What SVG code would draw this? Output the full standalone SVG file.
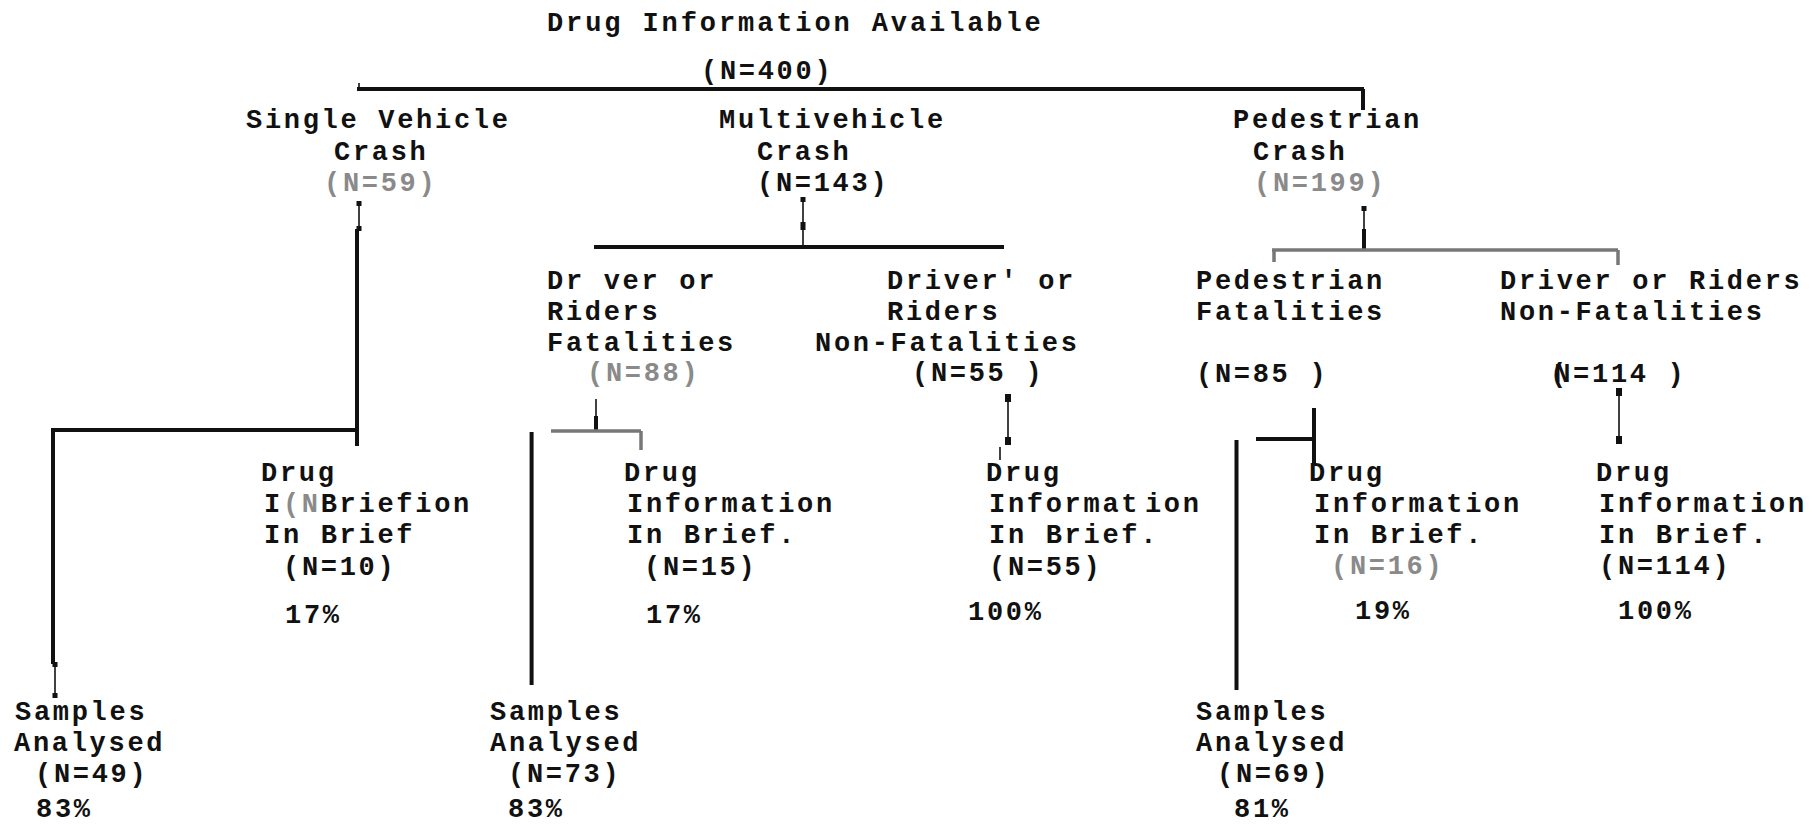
<svg xmlns="http://www.w3.org/2000/svg" width="1812" height="824" viewBox="0 0 1812 824">
<style>
text{font-family:"Liberation Mono","Courier New",monospace;font-size:27px;letter-spacing:2.7px;font-weight:bold;fill:#111;white-space:pre}
.title{letter-spacing:2.9px}
.g{fill:#8a8a8a}
.thick{stroke:#111;stroke-width:4;fill:none}
.thin{stroke:#111;stroke-width:1.6;fill:none}
.grey{stroke:#777;stroke-width:3.5;fill:none}
.dot{fill:#111}
</style>
<rect width="1812" height="824" fill="#fff"/>
<g id="connectors">
  <!-- root bar -->
  <line class="thick" x1="357" y1="89" x2="1364" y2="89"/>
  <line class="thin" x1="359" y1="83" x2="359" y2="89"/>
  <line class="thick" x1="1363" y1="89" x2="1363" y2="110"/>
  <!-- single vehicle -->
  <line class="thin" x1="359" y1="203" x2="359" y2="229"/>
  <rect class="dot" x="356.5" y="201" width="5" height="5"/>
  <rect class="dot" x="356.5" y="226" width="5" height="5"/>
  <line class="thick" x1="357" y1="229" x2="357" y2="446"/>
  <line class="thick" x1="51" y1="430" x2="357" y2="430"/>
  <line class="thick" x1="53" y1="430" x2="53" y2="664"/>
  <line class="thin" x1="55" y1="664" x2="55" y2="696"/>
  <rect class="dot" x="52.5" y="662" width="5" height="5"/>
  <rect class="dot" x="52.5" y="693" width="5" height="5"/>
  <!-- multivehicle -->
  <line class="thin" x1="803" y1="199" x2="803" y2="247"/>
  <rect class="dot" x="800.5" y="197" width="5" height="5"/>
  <rect class="dot" x="800.5" y="222" width="5" height="8"/>
  <line class="thick" x1="594" y1="247" x2="1004" y2="247"/>
  <!-- driver fatalities -->
  <line class="thin" x1="596" y1="399" x2="596" y2="418"/>
  <line class="thick" x1="596" y1="416" x2="596" y2="431"/>
  <line class="grey" x1="551" y1="431" x2="641" y2="431"/>
  <line class="grey" x1="641" y1="431" x2="641" y2="450"/>
  <line class="thick" x1="531.6" y1="432" x2="531.6" y2="685"/>
  <!-- driver non-fatalities -->
  <line class="thin" x1="1008" y1="396" x2="1008" y2="444"/>
  <rect class="dot" x="1005" y="394" width="6" height="8"/>
  <rect class="dot" x="1005" y="437" width="6" height="8"/>
  <line class="thin" x1="1000" y1="447" x2="1000" y2="460"/>
  <!-- pedestrian -->
  <line class="thin" x1="1364" y1="208" x2="1364" y2="230"/>
  <rect class="dot" x="1361.5" y="206" width="5" height="5"/>
  <line class="thick" x1="1364" y1="229" x2="1364" y2="250"/>
  <line class="grey" x1="1272" y1="250" x2="1618" y2="250"/>
  <line class="grey" x1="1274" y1="250" x2="1274" y2="262"/>
  <line class="grey" x1="1618" y1="250" x2="1618" y2="265"/>
  <!-- pedestrian fatalities -->
  <line class="thick" x1="1314" y1="408" x2="1314" y2="465"/>
  <line class="thick" x1="1256" y1="439" x2="1314" y2="439"/>
  <line class="thick" x1="1236.5" y1="440" x2="1236.5" y2="690"/>
  <!-- pedestrian non-fatalities -->
  <line class="thin" x1="1619" y1="390" x2="1619" y2="443"/>
  <rect class="dot" x="1616" y="388" width="6" height="8"/>
  <rect class="dot" x="1616" y="436" width="6" height="8"/>
</g>
<g id="root">
  <text x="547" y="31" class="title">Drug Information Available</text>
  <text x="701" y="79">(N=400)</text>
</g>
<g id="single-vehicle">
  <text x="246" y="128">Single Vehicle</text>
  <text x="334" y="160">Crash</text>
  <text x="324" y="191" class="g">(N=59)</text>
</g>
<g id="multivehicle">
  <text x="719" y="128">Multivehicle</text>
  <text x="757" y="160">Crash</text>
  <text x="757" y="191">(N=143)</text>
</g>
<g id="pedestrian">
  <text x="1233" y="128">Pedestrian</text>
  <text x="1253" y="160">Crash</text>
  <text x="1254" y="191" class="g">(N=199)</text>
</g>
<g id="driver-fatalities">
  <text x="547" y="289">Dr ver or</text>
  <text x="547" y="320">Riders</text>
  <text x="547" y="351">Fatalities</text>
  <text x="587" y="381" class="g">(N=88)</text>
</g>
<g id="driver-non-fatalities">
  <text x="887" y="289">Driver' or</text>
  <text x="887" y="320">Riders</text>
  <text x="815" y="351">Non-Fatalities</text>
  <text x="912" y="381">(N=55 )</text>
</g>
<g id="pedestrian-fatalities">
  <text x="1196" y="289">Pedestrian</text>
  <text x="1196" y="320">Fatalities</text>
  <text x="1196" y="382">(N=85 )</text>
</g>
<g id="pedestrian-non-fatalities">
  <text x="1500" y="289">Driver or Riders</text>
  <text x="1500" y="320">Non-Fatalities</text>
  <text x="1550" y="382"><tspan style="letter-spacing:-12px">(</tspan>N=114 )</text>
</g>
<g id="sv-brief">
  <text x="261" y="481">Drug</text>
  <text x="264" y="512">I<tspan class="g">(N</tspan>Briefion</text>
  <text x="264" y="543">In Brief</text>
  <text x="283" y="575">(N=10)</text>
  <text x="285" y="623">17%</text>
</g>
<g id="sv-samples">
  <text x="15" y="720">Samples</text>
  <text x="14" y="751">Analysed</text>
  <text x="35" y="782">(N=49)</text>
  <text x="36" y="817">83%</text>
</g>
<g id="df-brief">
  <text x="624" y="481">Drug</text>
  <text x="627" y="512">Information</text>
  <text x="627" y="543">In Brief.</text>
  <text x="644" y="575">(N=15)</text>
  <text x="646" y="623">17%</text>
</g>
<g id="df-samples">
  <text x="490" y="720">Samples</text>
  <text x="490" y="751">Analysed</text>
  <text x="508" y="782">(N=73)</text>
  <text x="508" y="817">83%</text>
</g>
<g id="dnf-brief">
  <text x="986" y="481">Drug</text>
  <text x="989" y="512">Informat<tspan style="letter-spacing:-11.5px"> </tspan>ion</text>
  <text x="989" y="543">In Brief.</text>
  <text x="989" y="575">(N=55)</text>
  <text x="968" y="620">100%</text>
</g>
<g id="pf-brief">
  <text x="1309" y="481">Drug</text>
  <text x="1314" y="512">Information</text>
  <text x="1314" y="543">In Brief.</text>
  <text x="1331" y="574" class="g">(N=16)</text>
  <text x="1355" y="619">19%</text>
</g>
<g id="pf-samples">
  <text x="1196" y="720">Samples</text>
  <text x="1196" y="751">Analysed</text>
  <text x="1217" y="782">(N=69)</text>
  <text x="1234" y="817">81%</text>
</g>
<g id="pnf-brief">
  <text x="1596" y="481">Drug</text>
  <text x="1599" y="512">Information</text>
  <text x="1599" y="543">In Brief.</text>
  <text x="1599" y="574">(N=114)</text>
  <text x="1618" y="619">100%</text>
</g>
</svg>
